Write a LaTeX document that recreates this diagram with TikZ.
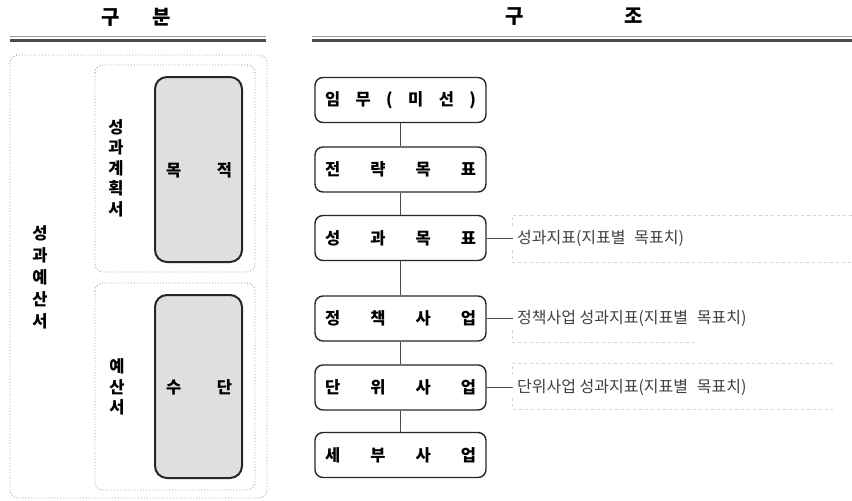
\documentclass[tikz,border=0pt]{standalone}
\usepackage{fontspec}
\setmainfont{Noto Sans CJK KR}
\begin{document}
\begin{tikzpicture}[x=1pt,y=-1pt,
  dotbox/.style={draw=gray!80,dotted,line width=0.9pt,rounded corners=8pt},
  graybox/.style={draw=black!85,line width=2pt,fill=gray!25,rounded corners=12pt},
  stagebox/.style={draw=black!85,line width=1.4pt,rounded corners=8pt,minimum width=171pt,minimum height=45pt,inner sep=0pt},
  hdr/.style={font=\fontsize{20}{20}\selectfont\bfseries,inner sep=0pt},
  vlab/.style={font=\fontsize{16.5}{20.5}\selectfont\bfseries,align=center,inner sep=0pt},
  vlabw/.style={font=\fontsize{16.5}{22}\selectfont\bfseries,align=center,inner sep=0pt},
  btxt/.style={font=\fontsize{16.5}{16.5}\selectfont\bfseries},
  ind/.style={font=\fontsize{16}{16}\selectfont,text=black!75,inner sep=0pt,anchor=west},
  indbox/.style={draw=gray!35,dashed,line width=0.7pt},
  conn/.style={draw=black!70,line width=0.8pt}]
\useasboundingbox (0,0) rectangle (852,501);
% headers
\node[hdr] (h1) at (136,17) {\makebox[70pt][s]{구 분}};
\node[hdr] (h2) at (574,17) {\makebox[138pt][s]{구 조}};
\draw[gray!80,line width=0.6pt] (10,36) -- (266,36);
\draw[gray!60!black,line width=2.2pt] (10,40.5) -- (266,40.5);
\draw[gray!80,line width=0.6pt] (312,36) -- (852,36);
\draw[gray!60!black,line width=2.2pt] (312,40.5) -- (852,40.5);
% left part
\draw[dotbox] (10,55) rectangle (267,498);
\draw[dotbox] (95,65) rectangle (255,272);
\draw[dotbox] (95,283) rectangle (255,490);
\draw[graybox] (155,77) rectangle (242,262);
\draw[graybox] (155,295) rectangle (242,478);
\node[btxt] (g1) at (199,170) {\makebox[66pt][s]{목 적}};
\node[btxt] (g2) at (199,387) {\makebox[66pt][s]{수 단}};
\node[vlab] (v1) at (116,168) {성\\과\\계\\획\\서};
\node[vlab] (v2) at (117,387) {예\\산\\서};
\node[vlabw] (v3) at (40,277) {성\\과\\예\\산\\서};
% right part
\node[stagebox] (b1) at (400.5,100) {\fontsize{16.5}{16.5}\selectfont\bfseries\makebox[151pt][s]{임 무 ( 미 선 )}};
\node[stagebox] (b2) at (400.5,169.5) {\fontsize{16.5}{16.5}\selectfont\bfseries\makebox[151pt][s]{전 략 목 표}};
\node[stagebox] (b3) at (400.5,238) {\fontsize{16.5}{16.5}\selectfont\bfseries\makebox[151pt][s]{성 과 목 표}};
\node[stagebox] (b4) at (400.5,318.5) {\fontsize{16.5}{16.5}\selectfont\bfseries\makebox[151pt][s]{정 책 사 업}};
\node[stagebox] (b5) at (400.5,387.5) {\fontsize{16.5}{16.5}\selectfont\bfseries\makebox[151pt][s]{단 위 사 업}};
\node[stagebox] (b6) at (400.5,455) {\fontsize{16.5}{16.5}\selectfont\bfseries\makebox[151pt][s]{세 부 사 업}};
\draw[conn] (b1) -- (b2);
\draw[conn] (b2) -- (b3);
\draw[conn] (b3) -- (b4);
\draw[conn] (b4) -- (b5);
\draw[conn] (b5) -- (b6);
% indicator boxes (faint dashed frames)
\draw[indbox] (512,226) -- (512,215) -- (852,215);
\draw[indbox] (512,250) -- (512,262) -- (852,262);
\draw[indbox] (512,330) -- (512,342) -- (697,342);
\draw[indbox] (512,375) -- (512,363) -- (833,363);
\draw[indbox] (512,398) -- (512,409) -- (833,409);
\node[ind] (t3) at (517,238) {성과지표(지표별\hspace{0.55em}목표치)};
\node[ind] (t4) at (517,318.5) {정책사업 성과지표(지표별\hspace{0.55em}목표치)};
\node[ind] (t5) at (517,387.5) {단위사업 성과지표(지표별\hspace{0.55em}목표치)};
\draw[conn] (b3.east) -- ([xshift=-4pt]t3.west);
\draw[conn] (b4.east) -- ([xshift=-4pt]t4.west);
\draw[conn] (b5.east) -- ([xshift=-4pt]t5.west);
\end{tikzpicture}
\end{document}
